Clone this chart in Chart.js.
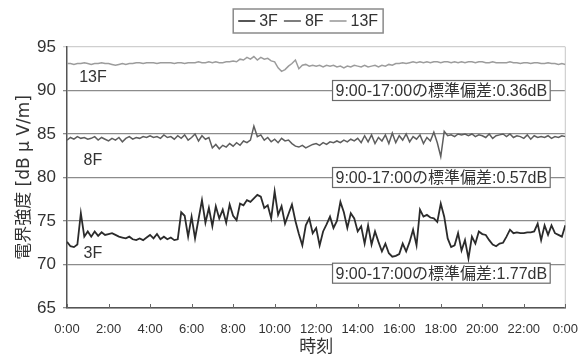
<!DOCTYPE html>
<html>
<head>
<meta charset="utf-8">
<script src="https://cdn.jsdelivr.net/npm/chart.js@4.4.1/dist/chart.umd.min.js"></script>
<style>
  html, body { margin: 0; padding: 0; background: #fff; }
  #wrap { width: 581px; height: 358px; }
</style>
</head>
<body>
<div id="wrap"><canvas id="c"></canvas></div>
<script>
// Field strength per floor, sampled every 10 minutes from 0:00 to 24:00
const floors = ['3F', '8F', '13F'];
const hourTicks = [0, 2, 4, 6, 8, 10, 12, 14, 16, 18, 20, 22, 24];

const field3F = [
  72.6, 72.1, 72.0, 72.3, 75.9, 73.2,
  73.8, 73.2, 73.8, 73.3, 73.7, 73.4,
  73.5, 73.6, 73.4, 73.2, 73.1, 73.0,
  73.2, 72.9, 72.8, 73.0, 72.8, 73.1,
  73.4, 73.0, 73.5, 72.9, 73.2, 72.9,
  73.1, 72.8, 72.9, 76.0, 75.6, 73.2,
  75.5, 73.0, 75.2, 77.4, 74.8, 76.5,
  74.4, 76.7, 75.3, 76.3, 74.8, 76.9,
  75.6, 75.1, 77.0, 76.8, 77.4, 77.2,
  77.6, 78.0, 77.8, 76.5, 76.8, 75.3,
  78.4, 75.7, 76.7, 74.7, 75.8, 76.9,
  75.0, 73.5, 72.2, 74.5, 75.3, 73.6,
  74.2, 72.2, 73.8, 74.6, 75.5, 74.2,
  75.0, 77.2, 76.0, 74.2, 75.9, 75.3,
  73.8, 74.4, 72.4, 74.5, 72.3, 73.8,
  72.6, 71.5, 72.4, 71.3, 70.9, 71.0,
  71.2, 72.4, 71.5, 72.6, 74.0, 72.2,
  76.3, 75.5, 75.7, 75.4, 75.3, 74.9,
  77.0, 75.5, 73.0, 72.0, 72.2, 73.6,
  71.6, 72.8, 70.7, 73.2, 72.4, 73.8,
  73.5, 73.4, 72.8, 72.3, 72.1, 72.4,
  72.5, 73.2, 74.0, 73.6, 73.7, 73.6,
  73.6, 73.7, 73.7, 73.8, 74.7, 72.8,
  74.5, 73.4, 74.5, 73.6, 73.4, 73.2,
  74.5
];

const field8F = [
  84.3, 84.6, 84.4, 84.7, 84.5, 84.6,
  84.4, 84.5, 84.7, 84.3, 84.6, 84.4,
  84.2, 84.5, 84.3, 84.6, 84.1, 84.5,
  84.7, 84.4, 84.6, 84.5, 84.7, 84.6,
  84.8, 84.6, 84.7, 84.5, 84.9, 84.6,
  84.7, 84.4, 84.8, 84.5, 84.9, 84.3,
  84.6, 85.0, 84.2, 84.8, 84.4, 84.6,
  83.4, 83.8, 83.3, 83.7, 83.5, 83.9,
  83.6, 84.0, 83.7, 84.2, 84.0, 84.3,
  85.9, 84.7, 84.9, 84.3, 84.6, 84.1,
  84.4, 84.0, 84.5, 84.2, 84.3, 83.9,
  83.6, 83.5, 83.7, 83.4, 83.6, 83.8,
  83.9, 83.7, 84.0, 83.8, 84.1, 84.0,
  84.2, 84.0, 84.3, 84.1, 84.4, 84.2,
  84.5, 84.0, 84.8, 84.1, 84.9, 83.9,
  84.6, 84.2, 84.9, 83.9, 85.1, 84.0,
  84.8, 84.3, 85.0, 84.1, 84.7, 84.4,
  84.9, 83.9, 84.6, 84.2, 85.2, 84.0,
  82.4, 85.3, 84.8, 84.9, 84.7, 85.0,
  84.9, 85.0, 84.8, 85.0, 84.7, 84.9,
  84.8, 84.6, 85.0, 84.5, 84.8, 84.9,
  85.0, 84.7, 85.0, 84.6, 84.8, 84.7,
  84.5, 84.9, 84.4, 84.8, 84.6, 84.7,
  84.6, 84.8, 84.5, 84.7, 84.6, 84.8,
  84.7
];

const field13F = [
  93.1, 93.1, 93.0, 93.1, 93.1, 93.2,
  93.1, 93.0, 93.1, 93.1, 93.2, 93.1,
  93.1, 93.0, 92.9, 93.0, 93.1, 93.0,
  93.1, 93.1, 93.2, 93.2, 93.1, 93.2,
  93.2, 93.2, 93.1, 93.2, 93.2, 93.2,
  93.2, 93.1, 93.2, 93.2, 93.1, 93.2,
  93.2, 93.2, 93.3, 93.2, 93.2, 93.3,
  93.2, 93.3, 93.2, 93.2, 93.3, 93.3,
  93.4, 93.3, 93.6, 93.5, 93.8, 93.6,
  93.9, 93.5, 93.8, 93.6, 93.7, 93.4,
  93.3, 92.6, 92.2, 92.4, 92.8, 93.1,
  93.5, 92.5, 92.9, 93.0, 92.8, 92.9,
  92.8, 92.9, 92.7, 92.9, 92.8, 92.9,
  92.7, 92.8, 92.6, 92.8, 92.7, 92.9,
  92.8, 92.7, 92.9, 92.7, 92.8, 92.9,
  92.7, 92.9, 92.8, 93.0, 92.9, 93.1,
  93.1, 93.2, 93.1, 93.2, 93.3, 93.2,
  93.3, 93.2, 93.3, 93.2, 93.3, 93.3,
  93.2, 93.3, 93.3, 93.2, 93.3, 93.2,
  93.3, 93.2, 93.3, 93.3, 93.2, 93.3,
  93.3, 93.2, 93.2, 93.3, 93.2, 93.2,
  93.2, 93.2, 93.3, 93.2, 93.2, 93.1,
  93.2, 93.2, 93.1, 93.2, 93.2, 93.1,
  93.1, 93.2, 93.1, 93.1, 93.0, 93.1,
  93.0
];

// Standard deviation over 9:00-17:00 for each floor (dB)
const stdDev = ['1.77', '0.57', '0.36'];

const FONT = "'Liberation Sans', 'Noto Sans CJK JP', sans-serif";
const lineColors = ['#2b2b2b', '#5e5e5e', '#9c9c9c'];
const lineWidths = [1.8, 1.5, 1.5];
const seriesValues = [field3F, field8F, field13F];

// x position of each sample in hours
const hours = field3F.map((_, i) => i / 6);

const datasets = floors.map((name, k) => ({
  label: name,
  data: seriesValues[k].map((v, i) => ({ x: hours[i], y: v })),
  borderColor: lineColors[k],
  borderWidth: lineWidths[k],
  pointRadius: 0,
  tension: 0,
  fill: false
}));

// legend drawn as a framed row of line samples above the plot
const framedLegend = {
  id: 'framedLegend',
  afterDraw(chart) {
    const ctx = chart.ctx;
    const area = chart.chartArea;
    ctx.save();
    ctx.font = '16px ' + FONT;
    const sample = 17, gap = 4, itemGap = 6, padX = 5;
    const items = chart.data.datasets.map(ds => ({
      label: ds.label, color: ds.borderColor, w: ctx.measureText(ds.label).width
    }));
    const total = padX * 2 + items.reduce((s, it) => s + sample + gap + it.w, 0) + itemGap * (items.length - 1);
    const cx = (area.left + area.right) / 2 - 8;
    const top = 9, h = 24;
    let x = cx - total / 2;
    ctx.strokeStyle = '#8a8a8a';
    ctx.lineWidth = 1.5;
    ctx.strokeRect(x, top, total, h);
    x += padX;
    const cy = top + h / 2;
    items.forEach(it => {
      ctx.strokeStyle = it.color;
      ctx.lineWidth = 1.6;
      ctx.beginPath();
      ctx.moveTo(x, cy);
      ctx.lineTo(x + sample, cy);
      ctx.stroke();
      x += sample + gap;
      ctx.fillStyle = '#333';
      ctx.textBaseline = 'middle';
      ctx.textAlign = 'left';
      ctx.fillText(it.label, x, cy + 1);
      x += it.w + itemGap;
    });
    ctx.restore();
  }
};

// frame details: light right edge and short inward ticks on the time axis
const frameDetails = {
  id: 'frameDetails',
  beforeDatasetsDraw(chart) {
    const { ctx, chartArea: a, scales: { x } } = chart;
    ctx.save();
    ctx.strokeStyle = '#d0d0d0';
    ctx.lineWidth = 1.2;
    ctx.beginPath();
    ctx.moveTo(a.right, a.top);
    ctx.lineTo(a.right, a.bottom);
    ctx.stroke();
    ctx.strokeStyle = '#666';
    ctx.lineWidth = 1;
    hourTicks.forEach(hh => {
      const px = Math.round(x.getPixelForValue(hh)) + 0.5;
      ctx.beginPath();
      ctx.moveTo(px, a.bottom);
      ctx.lineTo(px, a.bottom - 4);
      ctx.stroke();
    });
    ctx.restore();
  }
};

// floor names and standard-deviation boxes on the plot
const seriesNotes = {
  id: 'seriesNotes',
  afterDatasetsDraw(chart) {
    const { ctx, scales: { x, y } } = chart;
    ctx.save();
    ctx.font = '16px ' + FONT;
    ctx.fillStyle = '#333';
    ctx.textAlign = 'center';
    ctx.textBaseline = 'middle';
    const nameAt = [71.2, 82.0, 91.5];
    floors.forEach((name, k) => {
      ctx.fillText(name, x.getPixelForValue(1.25), y.getPixelForValue(nameAt[k]));
    });

    const boxAt = [69.0, 80.0, 90.0];
    stdDev.forEach((sd, k) => {
      const text = '9:00-17:00の標準偏差:' + sd + 'dB';
      const w = ctx.measureText(text).width;
      const right = x.getPixelForValue(23.27);
      const bw = w + 6, bh = 20;
      const cy = y.getPixelForValue(boxAt[k]);
      const left = right - bw;
      ctx.fillStyle = '#fff';
      ctx.fillRect(left, cy - bh / 2, bw, bh);
      ctx.strokeStyle = '#6a6a6a';
      ctx.lineWidth = 1.2;
      ctx.strokeRect(left, cy - bh / 2, bw, bh);
      ctx.fillStyle = '#333';
      ctx.textAlign = 'left';
      ctx.fillText(text, left + 3, cy + 1);
    });
    ctx.restore();
  }
};

new Chart(document.getElementById('c'), {
  type: 'line',
  data: { datasets },
  options: {
    responsive: true,
    maintainAspectRatio: false,
    animation: false,
    layout: { padding: { top: 47, right: 15, left: 0, bottom: 0 } },
    plugins: {
      legend: { display: false },
      tooltip: { enabled: false }
    },
    scales: {
      x: {
        type: 'linear',
        min: 0,
        max: 24,
        afterFit(scale) { scale.height = 50; },
        afterBuildTicks(scale) { scale.ticks = hourTicks.map(v => ({ value: v })); },
        ticks: {
          autoSkip: false,
          maxRotation: 0,
          padding: 3,
          color: '#333',
          font: { family: FONT, size: 13 },
          callback: v => (v % 24) + ':00'
        },
        grid: { display: false, drawTicks: true, tickLength: 11 },
        border: { display: true, color: '#555', width: 1.5 },
        title: {
          display: true,
          text: '時刻',
          color: '#333',
          font: { family: FONT, size: 17 },
          padding: { top: 0, bottom: 0 }
        }
      },
      y: {
        min: 65,
        max: 95,
        afterFit(scale) { scale.width = 67; },
        ticks: {
          stepSize: 5,
          padding: 7,
          color: '#333',
          font: { family: FONT, size: 17 }
        },
        grid: {
          color: c => (c.tick && c.tick.value === 95) ? '#cfcfcf' : '#8c8c8c',
          lineWidth: 1.3,
          tickLength: 4
        },
        border: { display: true, color: '#555', width: 1.5 },
        title: {
          display: true,
          text: '電界強度 [dB μ V/m]',
          color: '#333',
          font: { family: "'DejaVu Sans', 'Noto Sans CJK JP', sans-serif", size: 17 },
          padding: { top: 14, bottom: 0 }
        }
      }
    }
  },
  plugins: [framedLegend, frameDetails, seriesNotes]
});
</script>
</body>
</html>
